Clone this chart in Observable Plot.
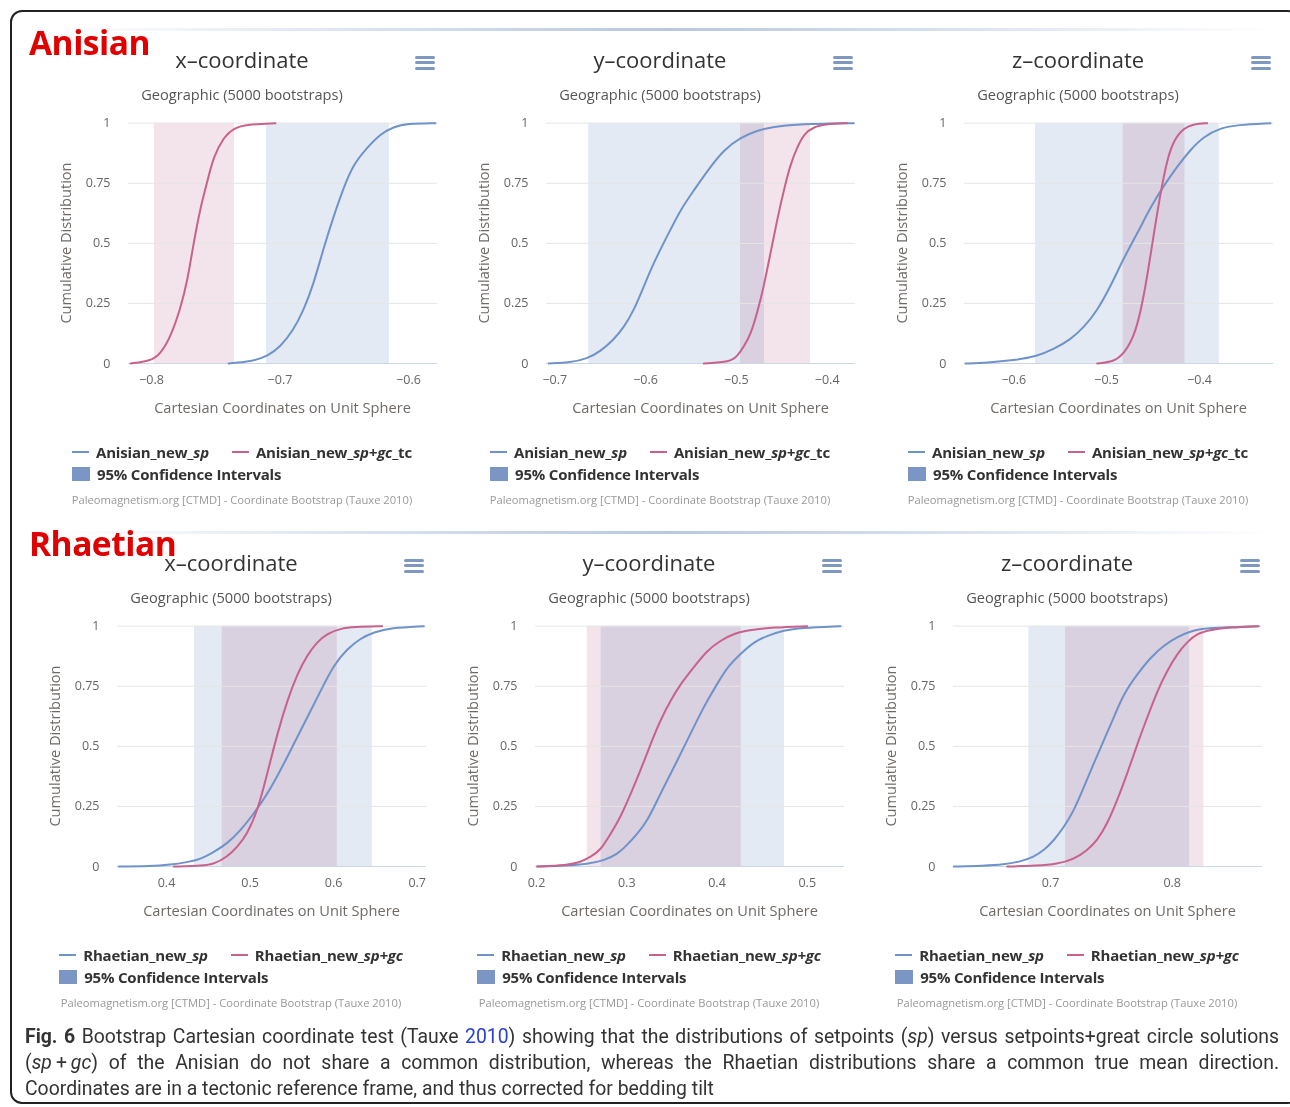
<!DOCTYPE html>
<html>
<head>
<meta charset="utf-8">
<script src="https://cdn.jsdelivr.net/npm/d3@7"></script>
<script src="https://cdn.jsdelivr.net/npm/@observablehq/plot@0.6"></script>
<style>
  html, body { margin:0; padding:0; background:#fff; }
  #page { position:relative; width:1290px; height:1107px; overflow:hidden; font-family:'Open Sans', sans-serif; }
  .legend-row { display:flex; align-items:center; height:22px; font-weight:bold; font-size:15px; color:#333; letter-spacing:-0.2px; }
  .dash { display:inline-block; width:17px; height:2px; margin-right:7px; }
  .sq { display:inline-block; width:18px; height:14px; margin-right:7px; background:#7b96c5; }
</style>
</head>
<body>
<div id="page"></div>
<script>
// ---------------- DATA ----------------
const rowLabels = ["Anisian", "Rhaetian"];
const panelTitles = ["x\u2013coordinate", "y\u2013coordinate", "z\u2013coordinate"];
const subtitle = "Geographic (5000 bootstraps)";
const yAxisTitle = "Cumulative Distribution";
const xAxisTitle = "Cartesian Coordinates on Unit Sphere";
const creditText = "Paleomagnetism.org [CTMD] - Coordinate Bootstrap (Tauxe 2010)";
const ciLabel = "95% Confidence Intervals";
const anisianNames = ["Anisian_new_", "sp", "Anisian_new_", "sp+gc", "_tc"];
const rhaetianNames = ["Rhaetian_new_", "sp", "Rhaetian_new_", "sp+gc", ""];
const yTicks = [0, 0.25, 0.5, 0.75, 1];

// Anisian x
const anisianX_ticks = [-0.8, -0.7, -0.6];
const anisianX_sp = [[-0.740,0],[-0.7206,0.01],[-0.7097,0.03],[-0.6996,0.07],[-0.6895,0.14],[-0.6817,0.22],[-0.6739,0.33],[-0.6661,0.48],[-0.6584,0.61],[-0.6506,0.73],[-0.6428,0.83],[-0.6319,0.90],[-0.6218,0.955],[-0.6117,0.985],[-0.6008,0.998],[-0.579,1]];
const anisianX_gc = [[-0.8163,0],[-0.8008,0.01],[-0.793,0.04],[-0.7852,0.11],[-0.7774,0.23],[-0.772,0.345],[-0.7673,0.5],[-0.7619,0.65],[-0.7564,0.76],[-0.7518,0.86],[-0.744,0.94],[-0.7362,0.98],[-0.7253,0.995],[-0.7035,1]];
const anisianX_ciSp = [-0.7105, -0.6148];
const anisianX_ciGc = [-0.7977, -0.7354];

// Anisian y
const anisianY_ticks = [-0.7, -0.6, -0.5, -0.4];
const anisianY_sp = [[-0.7066,0],[-0.6827,0.004],[-0.6643,0.02],[-0.6497,0.05],[-0.635,0.10],[-0.624,0.15],[-0.613,0.22],[-0.602,0.32],[-0.591,0.42],[-0.5762,0.53],[-0.5616,0.64],[-0.5469,0.72],[-0.5322,0.80],[-0.5139,0.89],[-0.4955,0.94],[-0.4771,0.97],[-0.4588,0.985],[-0.4368,0.996],[-0.3707,1]];
const anisianY_gc = [[-0.5359,0],[-0.5065,0.007],[-0.4991,0.03],[-0.4918,0.07],[-0.4844,0.12],[-0.4771,0.21],[-0.4698,0.32],[-0.4624,0.46],[-0.455,0.60],[-0.4478,0.72],[-0.4404,0.83],[-0.433,0.90],[-0.4258,0.955],[-0.4148,0.985],[-0.40,0.997],[-0.378,1]];
const anisianY_ciSp = [-0.6626, -0.469];
const anisianY_ciGc = [-0.4955, -0.4184];

// Anisian z
const anisianZ_ticks = [-0.6, -0.5, -0.4];
const anisianZ_sp = [[-0.652,0],[-0.6287,0.003],[-0.60,0.013],[-0.5748,0.03],[-0.5569,0.06],[-0.5389,0.10],[-0.5246,0.15],[-0.5102,0.22],[-0.4959,0.32],[-0.4815,0.44],[-0.4671,0.54],[-0.4528,0.65],[-0.4385,0.74],[-0.424,0.82],[-0.4097,0.89],[-0.3954,0.945],[-0.3774,0.98],[-0.3594,0.993],[-0.3235,1]];
const anisianZ_gc = [[-0.5102,0],[-0.4923,0.007],[-0.4815,0.04],[-0.4708,0.11],[-0.4636,0.21],[-0.4563,0.36],[-0.4492,0.54],[-0.442,0.71],[-0.4348,0.85],[-0.4277,0.93],[-0.4169,0.98],[-0.4061,0.997],[-0.3917,1]];
const anisianZ_ciSp = [-0.5766, -0.3786];
const anisianZ_ciGc = [-0.4822, -0.4157];

// Rhaetian x
const rhaetianX_ticks = [0.4, 0.5, 0.6, 0.7];
const rhaetianX_sp = [[0.3429,0],[0.3809,0.001],[0.4048,0.007],[0.4248,0.018],[0.4407,0.03],[0.4566,0.06],[0.4726,0.095],[0.4886,0.15],[0.5045,0.22],[0.5205,0.30],[0.5364,0.40],[0.5523,0.51],[0.5684,0.62],[0.5843,0.73],[0.6002,0.84],[0.6163,0.905],[0.6322,0.95],[0.6481,0.975],[0.6681,0.993],[0.7079,1]];
const rhaetianX_gc = [[0.4087,0],[0.4446,0.003],[0.4566,0.01],[0.4726,0.04],[0.4846,0.08],[0.4966,0.135],[0.5085,0.23],[0.5164,0.33],[0.5245,0.44],[0.5325,0.55],[0.5444,0.69],[0.5564,0.80],[0.5684,0.88],[0.5804,0.935],[0.5923,0.97],[0.6082,0.99],[0.6242,0.997],[0.6581,1]];
const rhaetianX_ciSp = [0.4335, 0.6462];
const rhaetianX_ciGc = [0.4667, 0.6043];

// Rhaetian y
const rhaetianY_ticks = [0.2, 0.3, 0.4, 0.5];
const rhaetianY_sp = [[0.2008,0],[0.234,0.003],[0.2562,0.01],[0.2746,0.025],[0.2894,0.05],[0.3005,0.09],[0.3116,0.135],[0.3227,0.19],[0.3338,0.275],[0.3449,0.36],[0.356,0.44],[0.367,0.525],[0.3781,0.61],[0.3892,0.69],[0.4003,0.76],[0.4114,0.83],[0.4261,0.885],[0.4409,0.935],[0.4557,0.96],[0.4741,0.983],[0.4926,0.993],[0.537,1]];
const rhaetianY_gc = [[0.2008,0],[0.234,0.005],[0.2488,0.018],[0.2599,0.04],[0.2709,0.067],[0.282,0.135],[0.2931,0.205],[0.3042,0.30],[0.3153,0.40],[0.3264,0.51],[0.3374,0.61],[0.3485,0.69],[0.3596,0.76],[0.3744,0.83],[0.3892,0.90],[0.4039,0.94],[0.4187,0.97],[0.4372,0.985],[0.463,0.995],[0.50,1]];
const rhaetianY_ciSp = [0.2717, 0.4749];
const rhaetianY_ciGc = [0.2562, 0.4269];

// Rhaetian z
const rhaetianZ_ticks = [0.7, 0.8];
const rhaetianZ_sp = [[0.6205,0],[0.6452,0.003],[0.6616,0.008],[0.6753,0.02],[0.6863,0.04],[0.6945,0.067],[0.7027,0.108],[0.7109,0.163],[0.7192,0.232],[0.7274,0.33],[0.7356,0.43],[0.7438,0.525],[0.752,0.62],[0.7602,0.72],[0.7713,0.80],[0.7822,0.87],[0.7931,0.92],[0.8041,0.955],[0.8151,0.98],[0.8288,0.993],[0.8699,1]];
const rhaetianZ_gc = [[0.6644,0],[0.6891,0.003],[0.7055,0.01],[0.7192,0.03],[0.7302,0.067],[0.7384,0.108],[0.7466,0.177],[0.7548,0.275],[0.763,0.385],[0.7713,0.51],[0.7795,0.62],[0.7877,0.73],[0.7959,0.815],[0.8041,0.885],[0.8124,0.935],[0.8206,0.97],[0.8315,0.985],[0.8479,0.995],[0.8712,1]];
const rhaetianZ_ciSp = [0.6822, 0.8142];
const rhaetianZ_ciGc = [0.7123, 0.826];

// ---------------- STYLE / LAYOUT ----------------
const BLUE = "#6f93c9", PINK = "#c8618b";
const BAND_BLUE = "#e4eaf4", BAND_PINK = "#f3e3ea";
const panels = [
  {row:0, col:0, domain:[-0.8179,-0.5774], ticks:anisianX_ticks, sp:anisianX_sp, gc:anisianX_gc, ciSp:anisianX_ciSp, ciGc:anisianX_ciGc, names:anisianNames},
  {row:0, col:1, domain:[-0.7091,-0.3688], ticks:anisianY_ticks, sp:anisianY_sp, gc:anisianY_gc, ciSp:anisianY_ciSp, ciGc:anisianY_ciGc, names:anisianNames},
  {row:0, col:2, domain:[-0.6531,-0.3203], ticks:anisianZ_ticks, sp:anisianZ_sp, gc:anisianZ_gc, ciSp:anisianZ_ciSp, ciGc:anisianZ_ciGc, names:anisianNames},
  {row:1, col:0, domain:[0.3414,0.7111], ticks:rhaetianX_ticks, sp:rhaetianX_sp, gc:rhaetianX_gc, ciSp:rhaetianX_ciSp, ciGc:rhaetianX_ciGc, names:rhaetianNames},
  {row:1, col:1, domain:[0.1989,0.5413], ticks:rhaetianY_ticks, sp:rhaetianY_sp, gc:rhaetianY_gc, ciSp:rhaetianY_ciSp, ciGc:rhaetianY_ciGc, names:rhaetianNames},
  {row:1, col:2, domain:[0.6203,0.8742], ticks:rhaetianZ_ticks, sp:rhaetianZ_sp, gc:rhaetianZ_gc, ciSp:rhaetianZ_ciSp, ciGc:rhaetianZ_ciGc, names:rhaetianNames}
];
const fmt = d => (d < 0 ? "\u2212" : "") + String(Math.abs(d));

const page = document.getElementById("page");
function el(tag, styles, html) {
  const e = document.createElement(tag);
  Object.assign(e.style, styles);
  if (html !== undefined) e.innerHTML = html;
  page.appendChild(e);
  return e;
}

// outer border
el("div", {position:"absolute", left:"10px", top:"10px", width:"1290px", height:"1094px", border:"2px solid #222", borderRadius:"12px", boxSizing:"border-box"});

// separator lines
[29, 532].forEach(y => el("div", {position:"absolute", left:"55px", top:(y-1)+"px", width:"1220px", height:"3px",
  background:"linear-gradient(to right, rgba(190,204,226,0), rgba(176,193,220,0.9) 50%, rgba(190,204,226,0))"}));

// row labels
el("div", {position:"absolute", left:"29px", top:"20px", fontSize:"33.5px", fontWeight:"bold", color:"#e00000", letterSpacing:"-0.5px", lineHeight:"44px"}, rowLabels[0]);
el("div", {position:"absolute", left:"29px", top:"521px", fontSize:"33.5px", fontWeight:"bold", color:"#e00000", letterSpacing:"-0.5px", lineHeight:"44px"}, rowLabels[1]);

const PW = 400, ML = 86, MR = 5, SVG_TOP = 110, MT = 12.7, SVG_H = 310, MB = SVG_H - (363 - SVG_TOP);

panels.forEach(p => {
  const PL = (p.row === 0 ? 42 : 31) + 418 * p.col;
  const RT = p.row === 0 ? 0 : 503;

  // title
  el("div", {position:"absolute", left:PL+"px", width:PW+"px", top:(RT+45)+"px", height:"28px", lineHeight:"28px", textAlign:"center", fontSize:"22px", color:"#333"}, panelTitles[p.col]);
  // hamburger
  [57, 62.5, 68].forEach(y => el("div", {position:"absolute", left:(PL+373)+"px", top:(RT+y-1.5)+"px", width:"20px", height:"3px", borderRadius:"1.5px", background:"#7f98c2"}));
  // subtitle
  el("div", {position:"absolute", left:PL+"px", width:PW+"px", top:(RT+84)+"px", height:"20px", lineHeight:"20px", textAlign:"center", fontSize:"14.6px", color:"#555"}, subtitle);

  const chart = Plot.plot({
    width: PW, height: SVG_H,
    marginLeft: ML, marginRight: MR, marginTop: MT, marginBottom: MB,
    style: {fontFamily:"'Open Sans', sans-serif", fontSize:"12.5px", color:"#666", background:"transparent", overflow:"visible"},
    x: {domain: p.domain, label: null},
    y: {domain: [0, 1], label: null},
    marks: [
      Plot.rect([p.ciSp], {x1: d => d[0], x2: d => d[1], y1: 0, y2: 1, fill: BAND_BLUE, mixBlendMode: "multiply"}),
      Plot.rect([p.ciGc], {x1: d => d[0], x2: d => d[1], y1: 0, y2: 1, fill: BAND_PINK, mixBlendMode: "multiply"}),
      Plot.gridY(yTicks, {stroke: "#e6e6e6", strokeOpacity: 1}),
      Plot.ruleY([0], {stroke: "#ccd6eb", strokeWidth: 1.2}),
      Plot.axisY(yTicks, {tickSize: 0, tickPadding: 18, fill: "#666", tickFormat: fmt}),
      Plot.axisX(p.ticks, {tickSize: 0, tickPadding: 12, fill: "#666", tickFormat: fmt}),
      Plot.line(p.sp, {x: d => d[0], y: d => d[1], stroke: BLUE, strokeWidth: 2, curve: "basis"}),
      Plot.line(p.gc, {x: d => d[0], y: d => d[1], stroke: PINK, strokeWidth: 2, curve: "basis"})
    ]
  });
  chart.style.position = "absolute";
  chart.style.left = PL + "px";
  chart.style.top = (RT + SVG_TOP) + "px";
  page.appendChild(chart);

  // y axis title
  el("div", {position:"absolute", left:(PL+23)+"px", top:(RT+243)+"px", transform:"translate(-50%,-50%) rotate(-90deg)", fontSize:"14.6px", color:"#6f6a66", whiteSpace:"nowrap"}, yAxisTitle);
  // x axis title
  el("div", {position:"absolute", left:(PL+ML)+"px", width:(PW-ML-MR)+"px", top:(RT+396)+"px", height:"22px", lineHeight:"22px", textAlign:"center", fontSize:"14.6px", color:"#6f6a66", whiteSpace:"nowrap"}, xAxisTitle);

  // legend
  const n = p.names;
  const lg = el("div", {position:"absolute", left:PL+"px", width:PW+"px", top:(RT+441)+"px", display:"flex", justifyContent:"center"});
  lg.innerHTML = `<div style="display:inline-block">
     <div class="legend-row"><span class="dash" style="background:${BLUE}"></span><span>${n[0]}<i>${n[1]}</i></span>
       <span class="dash" style="background:${PINK};margin-left:23px"></span><span>${n[2]}<i>${n[3]}</i>${n[4]}</span></div>
     <div class="legend-row"><span class="sq"></span><span>${ciLabel}</span></div></div>`;
  // credits
  el("div", {position:"absolute", left:PL+"px", width:PW+"px", top:(RT+493)+"px", height:"14px", lineHeight:"14px", textAlign:"center", fontSize:"11.2px", color:"#999", whiteSpace:"nowrap"}, creditText);
});

// caption
const capLines = [
  '<b>Fig. 6</b> Bootstrap Cartesian coordinate test (Tauxe <span style="color:#2a3fd6">2010</span>) showing that the distributions of setpoints (<i>sp</i>) versus setpoints+great circle solutions',
  '(<i>sp</i>&thinsp;+&thinsp;<i>gc</i>) of the Anisian do not share a common distribution, whereas the Rhaetian distributions share a common true mean direction.',
  'Coordinates are in a tectonic reference frame, and thus corrected for bedding tilt'
];
capLines.forEach((t, i) => {
  el("div", {position:"absolute", left:"25px", width:"1254px", top:(1024 + 26*i)+"px", height:"26px", lineHeight:"26px",
    fontFamily:"Roboto, sans-serif", fontSize:"19.4px", color:"#333", whiteSpace:"nowrap",
    textAlign: i < 2 ? "justify" : "left", textAlignLast: i < 2 ? "justify" : "left"}, t);
});
</script>
</body>
</html>
